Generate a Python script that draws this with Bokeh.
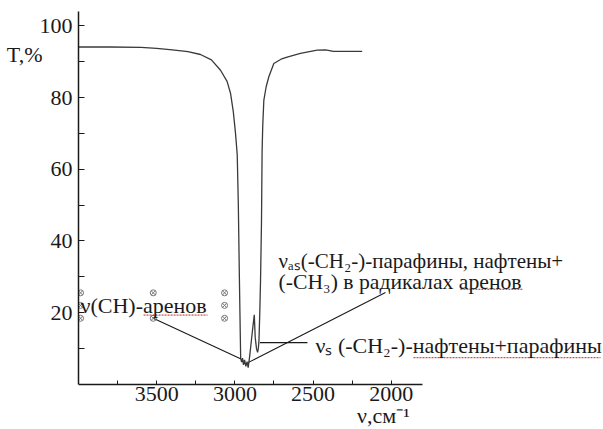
from bokeh.plotting import figure
from bokeh.models import Range1d, FixedTicker, Label, LinearAxis
from bokeh.embed import file_html
from bokeh.resources import INLINE

# ---- data ----
wavenumber = [4000, 3800, 3600, 3500, 3400, 3300, 3220, 3150, 3092, 3050, 3028, 3010,
              2996, 2985, 2978, 2971, 2966, 2963, 2957, 2951, 2945, 2938, 2930, 2922,
              2915, 2905, 2895, 2885, 2876, 2870, 2862, 2855, 2850, 2846, 2841, 2836,
              2830, 2826, 2822, 2815, 2800, 2783, 2751, 2700, 2666, 2581, 2474, 2420,
              2370, 2186]
transmittance = [94.1, 94.1, 94.0, 93.7, 93.3, 92.8, 92.0, 90.5, 87.6, 84.5, 81.2, 76.0,
                 70.0, 64.0, 50.0, 29.0, 15.0, 7.2, 6.2, 7.3, 5.4, 6.8, 5.0, 6.3,
                 4.6, 8.0, 12.0, 16.0, 19.4, 13.0, 10.0, 8.9, 10.0, 12.2, 19.7, 29.0,
                 45.0, 65.0, 72.0, 79.2, 83.0, 85.8, 89.5, 90.8, 91.3, 92.3, 93.2, 93.3,
                 92.9, 92.9]

x_major_ticks = [3500, 3000, 2500, 2000]
x_minor_ticks = [3750, 3250, 2750, 2250]
y_major_ticks = [20, 40, 60, 80, 100]
y_minor_ticks = [10, 30, 50, 70, 90]

x_title = "ν,см⁻¹"
x_title_pos = (2050, -12.3)
y_title = "T,%"
y_title_at = 92

# annotation texts and anchors (wavenumber, T)
label_ch_text = "ν(CH)-аренов"
label_ch_pos = (3987, 22.0)
label_as_lines = ["νₐₛ(-CH₂-)-парафины, нафтены+", "(-CH₃) в радикалах аренов"]
label_as_pos = [(2721, 34.4), (2721, 28.5)]
label_s_text = "νₛ (-CH₂-)-нафтены+парафины"
label_s_pos = (2485, 10.9)

# leader lines: (x0, y0, x1, y1)
leader_lines = [(3522, 18.4, 2964, 7.1),
                (2913, 6.1, 2037, 25.6),
                (2840, 11.6, 2536, 11.6)]

# text-box handles around the first label
handle_x = [3987, 3987, 3987, 3522, 3522, 3066, 3066, 3066]
handle_y = [25.5, 22.0, 18.4, 25.5, 18.4, 25.5, 22.0, 18.4]

# spell-check underlines: (x0, x1, y)
underlines = [(3584, 3175, 19.3), (1558, 1155, 26.5), (1858, 662, 7.4)]

FONT = "'Liberation Serif', 'Times New Roman', serif"
INK = "#1a1a1a"

p = figure(width=603, height=429, output_backend="svg", toolbar_location=None,
           x_range=Range1d(4000, 643), y_range=Range1d(-12.63, 104),
           min_border_left=78, min_border_right=0, min_border_top=11,
           min_border_bottom=0)
p.outline_line_color = None
p.xgrid.visible = False
p.ygrid.visible = False
p.background_fill_color = "white"
p.border_fill_color = "white"

p.xaxis.fixed_location = 0
p.xaxis.bounds = (1800, 4000)
p.yaxis.bounds = (0, 104)
p.xaxis.ticker = FixedTicker(ticks=x_major_ticks, minor_ticks=x_minor_ticks)
p.yaxis.ticker = FixedTicker(ticks=y_major_ticks, minor_ticks=y_minor_ticks)
for ax, tl in ((p.xaxis, 4), (p.yaxis, 6)):
    ax.axis_line_color = INK
    ax.axis_line_width = 1.5
    ax.major_tick_in = tl
    ax.major_tick_out = 0
    ax.minor_tick_in = tl
    ax.minor_tick_out = 0
    ax.major_tick_line_color = INK
    ax.minor_tick_line_color = INK
    ax.major_label_text_font = FONT
    ax.major_label_text_font_size = "22px"
    ax.major_label_text_color = INK
p.xaxis.major_label_standoff = 3
p.yaxis.major_label_standoff = 6

# y title drawn as a single-tick axis so it sits left of the frame
yt = LinearAxis(ticker=FixedTicker(ticks=[y_title_at], minor_ticks=[]),
                major_label_overrides={y_title_at: y_title})
yt.axis_line_color = None
yt.major_tick_line_color = None
yt.minor_tick_line_color = None
yt.major_tick_out = 0
yt.major_tick_in = 0
yt.major_label_text_font = FONT
yt.major_label_text_font_size = "22px"
yt.major_label_text_color = INK
yt.major_label_standoff = -6
p.add_layout(yt, "left")

# spectrum
p.line(wavenumber, transmittance, line_color="#3a3a3a", line_width=1.3)

# leader lines
p.segment(x0=[l[0] for l in leader_lines], y0=[l[1] for l in leader_lines],
          x1=[l[2] for l in leader_lines], y1=[l[3] for l in leader_lines],
          line_color=INK, line_width=1.1)

# handles
p.scatter(handle_x, handle_y, marker="circle_x", size=6, line_color="#777777",
          fill_color=None, line_width=1)

# underlines
p.segment(x0=[u[0] for u in underlines], y0=[u[2] for u in underlines],
          x1=[u[1] for u in underlines], y1=[u[2] for u in underlines],
          line_color="#d02020", line_width=1, line_dash="2 1")

def add_label(x, y, text, size="22px", align="left", baseline="middle"):
    p.add_layout(Label(x=x, y=y, text=text, text_font=FONT, text_font_size=size,
                       text_color=INK, text_align=align, text_baseline=baseline))

add_label(label_ch_pos[0], label_ch_pos[1], label_ch_text)
add_label(label_as_pos[0][0], label_as_pos[0][1], label_as_lines[0], size="21px")
add_label(label_as_pos[1][0], label_as_pos[1][1], label_as_lines[1], size="21.7px")
add_label(label_s_pos[0], label_s_pos[1], label_s_text)
add_label(x_title_pos[0], x_title_pos[1], x_title, align="center", baseline="bottom")

open("out.html", "w").write(file_html(p, INLINE))
